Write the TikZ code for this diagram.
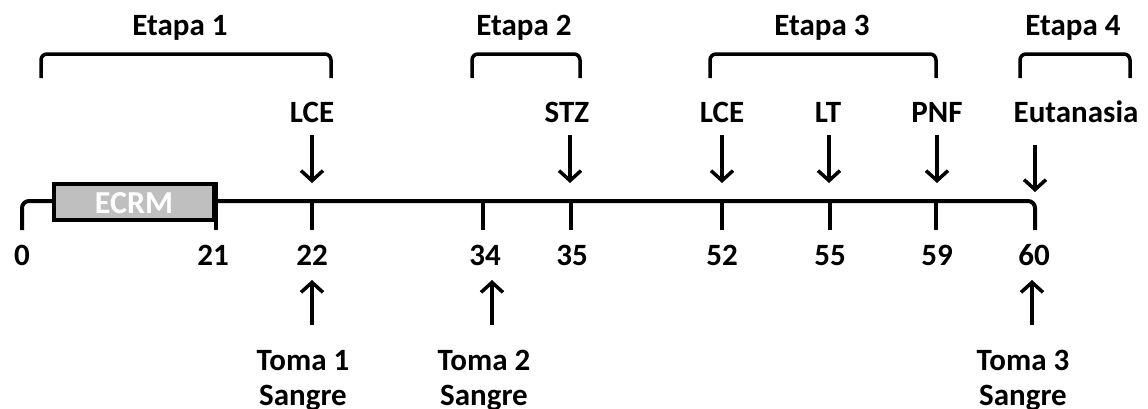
\documentclass[tikz,border=0pt]{standalone}
\usepackage{fontspec}
\setmainfont{Carlito}
\usetikzlibrary{arrows.meta}
\begin{document}
\begin{tikzpicture}[x=1pt,y=-1pt,
  lbl/.style={font=\fontsize{31}{36}\selectfont\bfseries, inner sep=0pt, anchor=base},
  axisline/.style={line width=4pt, line join=round},
  brk/.style={line width=3.5pt, rounded corners=6pt},
  evarrow/.style={line width=3.5pt, -{Straight Barb[length=10pt,width=22pt,line width=3.5pt]}},
]
\useasboundingbox (0,0) rectangle (1148,408);

% stage brackets and titles
\draw[brk] (41,78) -- (41,54) -- (331,54) -- (331,78);
\draw[brk] (472,78) -- (472,54) -- (580,54) -- (580,78);
\draw[brk] (710,78) -- (710,54) -- (936,54) -- (936,78);
\draw[brk] (1020,78) -- (1020,54) -- (1130,54) -- (1130,78);
\node[lbl] (et1) at (180,35) {Etapa 1};
\node[lbl] (et2) at (524,35) {Etapa 2};
\node[lbl] (et3) at (822,35) {Etapa 3};
\node[lbl] (et4) at (1073,35) {Etapa 4};

% time axis
\draw[axisline, rounded corners=7pt] (22,230) -- (22,201) -- (52,201);
\draw[axisline, rounded corners=7pt] (216,201) -- (1035,201) -- (1035,230);
\node[draw, line width=4pt, fill={rgb,255:red,191;green,191;blue,191},
      minimum width=160pt, minimum height=36pt, inner sep=0pt] (ecrm) at (134,202) {};
\node[lbl, text=white, font=\fontsize{32}{36}\selectfont\bfseries] (ecrmt) at (134,213) {ECRM};
\draw[axisline] (216,182) -- (216,230);
\foreach \x in {312,483,571,722,830,936}
  \draw[axisline] (\x,201) -- (\x,230);

% day labels
\node[lbl] (d0) at (22,265) {0};
\node[lbl] (d21) at (213,265) {21};
\node[lbl] (d22) at (312,265) {22};
\node[lbl] (d34) at (485,265) {34};
\node[lbl] (d35) at (572,265) {35};
\node[lbl] (d52) at (722,265) {52};
\node[lbl] (d55) at (830,265) {55};
\node[lbl] (d59) at (937,265) {59};
\node[lbl] (d60) at (1034,265) {60};

% events above the axis
\node[lbl] (lce1) at (312,122) {LCE};
\node[lbl] (stz) at (567,122) {STZ};
\node[lbl] (lce2) at (722,122) {LCE};
\node[lbl] (lt) at (828,122) {LT};
\node[lbl] (pnf) at (937,122) {PNF};
\node[lbl] (eut) at (1076,122) {Eutanasia};
\coordinate (a1s) at (312,135); \coordinate (a1e) at (312,183);
\coordinate (a2s) at (570,135); \coordinate (a2e) at (570,183);
\coordinate (a3s) at (722,135); \coordinate (a3e) at (722,183);
\coordinate (a4s) at (829,135); \coordinate (a4e) at (829,183);
\coordinate (a5s) at (937,135); \coordinate (a5e) at (937,183);
\coordinate (a6s) at (1035,145); \coordinate (a6e) at (1035,192);
\draw[evarrow] (a1s) -- (a1e);
\draw[evarrow] (a2s) -- (a2e);
\draw[evarrow] (a3s) -- (a3e);
\draw[evarrow] (a4s) -- (a4e);
\draw[evarrow] (a5s) -- (a5e);
\draw[evarrow] (a6s) -- (a6e);

% blood samples below the axis
\node[lbl] (t1) at (303,370) {Toma 1};
\node[lbl] (s1) at (303,405) {Sangre};
\node[lbl] (t2) at (484,370) {Toma 2};
\node[lbl] (s2) at (484,405) {Sangre};
\node[lbl] (t3) at (1023,370) {Toma 3};
\node[lbl] (s3) at (1023,405) {Sangre};
\coordinate (b1s) at (312,325); \coordinate (b1e) at (312,280);
\coordinate (b2s) at (492,325); \coordinate (b2e) at (492,280);
\coordinate (b3s) at (1032,325); \coordinate (b3e) at (1032,280);
\draw[evarrow] (b1s) -- (b1e);
\draw[evarrow] (b2s) -- (b2e);
\draw[evarrow] (b3s) -- (b3e);
\end{tikzpicture}
\end{document}
